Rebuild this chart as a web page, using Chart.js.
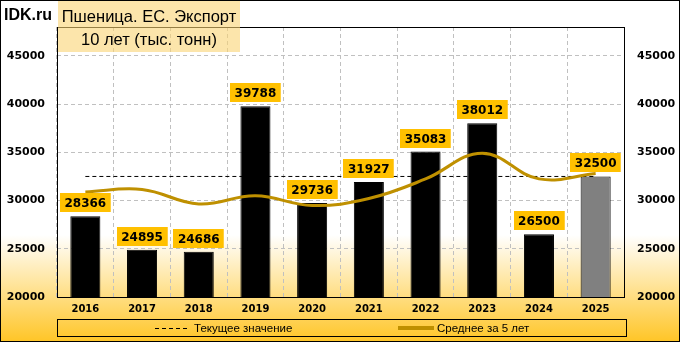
<!DOCTYPE html>
<html>
<head>
<meta charset="utf-8">
<script src="https://cdn.jsdelivr.net/npm/chart.js@4"></script>
<style>
  html, body { margin: 0; padding: 0; background: #fff; }
  #wrap { width: 680px; height: 342px; }
</style>
</head>
<body>
<div id="wrap"><canvas id="chart" width="680" height="342"></canvas></div>
<script>
// данные
var years = ["2016", "2017", "2018", "2019", "2020", "2021", "2022", "2023", "2024", "2025"];
var exportValues = [28366, 24895, 24686, 39788, 29736, 31927, 35083, 38012, 26500, 32500];
var currentValue = [32500, 32500, 32500, 32500, 32500, 32500, 32500, 32500, 32500, 32500];
var average5 = [30900, 31150, 29650, 30500, 29490, 30210, 32240, 34910, 32250, 32800];
var barColors = ["#000", "#000", "#000", "#000", "#000", "#000", "#000", "#000", "#000", "#808080"];
var yTicks = [20000, 25000, 30000, 35000, 40000, 45000];

var titleLines = ["Пшеница. ЕС. Экспорт", "10 лет (тыс. тонн)"];
var siteName = "IDK.ru";

var backgroundPlugin = {
  id: "bg",
  beforeDraw: function (chart) {
    var ctx = chart.ctx;
    var w = chart.width, h = chart.height;
    ctx.save();
    var g = ctx.createLinearGradient(0, 235, 0, h);
    g.addColorStop(0, "#ffffff");
    g.addColorStop(1, "#ffc526");
    ctx.fillStyle = "#ffffff";
    ctx.fillRect(0, 0, w, h);
    ctx.fillStyle = g;
    ctx.fillRect(0, 235, w, h - 235);
    ctx.restore();
  },
  afterDatasetsDraw: function (chart) {
    var ctx = chart.ctx;
    var a = chart.chartArea;
    // рамка области построения
    ctx.save();
    ctx.strokeStyle = "#000";
    ctx.lineWidth = 1;
    ctx.strokeRect(Math.round(a.left) + 0.5, Math.round(a.top) + 0.5,
      Math.round(a.right - a.left), Math.round(a.bottom - a.top));
    ctx.restore();

    // подписи значений
    var meta = chart.getDatasetMeta(0);
    ctx.save();
    ctx.font = "bold 12px 'DejaVu Sans'";
    ctx.textAlign = "center";
    ctx.textBaseline = "middle";
    meta.data.forEach(function (bar, i) {
      var txt = String(exportValues[i]);
      var tw = ctx.measureText(txt).width;
      var bw = tw + 9, bh = 19;
      var bx = Math.round(bar.x - bw / 2);
      var by = Math.round(bar.y - 4 - bh);
      ctx.fillStyle = "#ffc000";
      ctx.fillRect(bx, by, bw, bh);
      ctx.fillStyle = "#000";
      ctx.fillText(txt, bar.x, by + bh / 2 + 1);
    });
    ctx.restore();
  },
  afterDraw: function (chart) {
    var ctx = chart.ctx;
    var a = chart.chartArea;
    ctx.save();
    // заголовок
    ctx.fillStyle = "rgba(250, 212, 115, 0.6)";
    ctx.fillRect(58, 0, 182, 52);
    ctx.fillStyle = "#000";
    ctx.textAlign = "center";
    ctx.textBaseline = "middle";
    ctx.font = "16.5px 'Liberation Sans'";
    ctx.fillText(titleLines[0], 149, 17);
    ctx.fillText(titleLines[1], 149, 40);
    ctx.textAlign = "left";
    ctx.font = "bold 16px 'Liberation Sans'";
    ctx.fillText(siteName, 4, 16);

    // легенда
    var ly = 319.5, lh = 17;
    ctx.strokeStyle = "#000";
    ctx.lineWidth = 1;
    ctx.strokeRect(Math.round(a.left) + 0.5, ly, Math.round(a.right - a.left) + 2, lh);
    var cy = ly + lh / 2;
    ctx.font = "11.5px 'Liberation Sans'";
    ctx.textBaseline = "middle";
    // пунктир
    ctx.setLineDash([4, 3]);
    ctx.beginPath();
    ctx.moveTo(155, Math.round(cy) + 0.5);
    ctx.lineTo(189, Math.round(cy) + 0.5);
    ctx.stroke();
    ctx.setLineDash([]);
    ctx.fillText(chart.data.datasets[1].label, 194, cy + 1);
    // среднее
    ctx.strokeStyle = "#bf9000";
    ctx.lineWidth = 4;
    ctx.beginPath();
    ctx.moveTo(398, cy);
    ctx.lineTo(434, cy);
    ctx.stroke();
    ctx.fillText(chart.data.datasets[2].label, 437, cy + 1);

    // внешняя рамка
    ctx.strokeStyle = "#000";
    ctx.lineWidth = 1;
    ctx.strokeRect(0.5, 0.5, chart.width - 1, chart.height - 1);
    ctx.restore();
  }
};

var gridDash = { display: false, dash: [4, 3] };
var plainTick = function (v) { return String(v); };

var ctx = document.getElementById("chart").getContext("2d");
var myChart = new Chart(ctx, {
  data: {
    labels: years,
    datasets: [
      {
        type: "bar",
        label: "Экспорт",
        data: exportValues,
        backgroundColor: barColors,
        borderColor: "#000",
        borderWidth: 1,
        barPercentage: 0.53,
        categoryPercentage: 1.0,
        yAxisID: "y",
        order: 3,
      },
      {
        type: "line",
        label: "Текущее значение",
        data: currentValue,
        borderColor: "#000",
        borderWidth: 1,
        borderDash: [4, 3],
        pointRadius: 0,
        fill: false,
        tension: 0,
        yAxisID: "y",
        order: 2,
      },
      {
        type: "line",
        label: "Среднее за 5 лет",
        data: average5,
        borderColor: "#bf9000",
        borderWidth: 3,
        pointRadius: 0,
        fill: false,
        tension: 0.4,
        yAxisID: "y",
        order: 1,
      },
    ],
  },
  options: {
    responsive: false,
    animation: false,
    devicePixelRatio: 1,
    layout: { padding: { top: 27, bottom: 23, left: 0, right: 0 } },
    plugins: {
      legend: { display: false },
      tooltip: { enabled: false },
      title: { display: false },
    },
    scales: {
      x: {
        grid: { offset: true, color: "#c0c0c0", drawTicks: false },
        border: gridDash,
        ticks: {
          color: "#000",
          padding: 6,
          font: { family: "DejaVu Sans", size: 10, weight: "bold" },
        },
        afterFit: function (s) { s.height = 22; },
      },
      y: {
        position: "left",
        min: 20000,
        max: 48000,
        grid: { color: "#c0c0c0", drawTicks: false },
        border: gridDash,
        afterBuildTicks: function (s) {
          s.ticks = yTicks.map(function (v) { return { value: v }; });
        },
        ticks: {
          color: "#000",
          padding: 12,
          callback: plainTick,
          font: { family: "DejaVu Sans", size: 11, weight: "bold" },
        },
        afterFit: function (s) { s.width = 57; },
      },
      y2: {
        position: "right",
        min: 20000,
        max: 48000,
        grid: { display: false, drawTicks: false },
        border: { display: false },
        afterBuildTicks: function (s) {
          s.ticks = yTicks.map(function (v) { return { value: v }; });
        },
        ticks: {
          color: "#000",
          padding: 13,
          callback: plainTick,
          font: { family: "DejaVu Sans", size: 11, weight: "bold" },
        },
        afterFit: function (s) { s.width = 56; },
      },
    },
  },
  plugins: [backgroundPlugin],
});
</script>
</body>
</html>
